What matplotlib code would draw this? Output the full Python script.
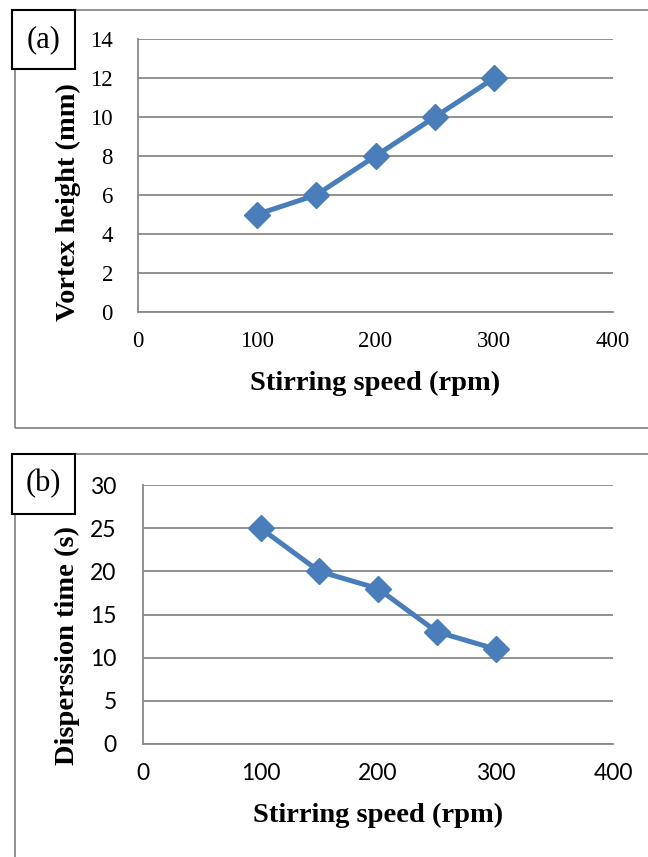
import matplotlib.pyplot as plt
from matplotlib.patches import Rectangle

# data
speed = [100, 150, 200, 250, 300]
vortex_height = [5, 6, 8, 10, 12]
dispersion_time = [25, 20, 18, 13, 11]

x_ticks = [0, 100, 200, 300, 400]
y_ticks_a = [0, 2, 4, 6, 8, 10, 12, 14]
y_ticks_b = [0, 5, 10, 15, 20, 25, 30]

W, H = 648, 857
blue = '#4a7ebb'
grid_gray = '#888888'


def rect(l, t, r, b):
    return [l / W, 1 - b / H, (r - l) / W, (b - t) / H]


fig = plt.figure(figsize=(W / 100, H / 100), dpi=100)

# outer chart borders and (a)/(b) tag boxes
for top, bot in [(10, 428), (454, 875)]:
    fig.add_artist(Rectangle((15 / W, 1 - bot / H), (665 - 15) / W, (bot - top) / H,
                             transform=fig.transFigure, fill=False,
                             edgecolor=grid_gray, lw=1.3))
for top, bot, tag in [(10, 69, '(a)'), (454, 514, '(b)')]:
    fig.add_artist(Rectangle((12 / W, 1 - bot / H), 63 / W, (bot - top) / H,
                             transform=fig.transFigure, facecolor='white',
                             edgecolor='black', lw=1.5, zorder=5))
    fig.text(43.5 / W, 1 - (top + bot) / 2 / H, tag, family='Liberation Serif',
             fontsize=22, ha='center', va='center', zorder=6)


def style(ax, yticks, tick_font, ypad):
    ax.set_xlim(0, 400)
    ax.set_ylim(yticks[0], yticks[-1])
    ax.set_xticks(x_ticks)
    ax.set_yticks(yticks)
    ax.grid(axis='y', color=grid_gray, lw=1.3)
    ax.set_axisbelow(True)
    for s in ['top', 'right']:
        ax.spines[s].set_visible(False)
    for s in ['left', 'bottom']:
        ax.spines[s].set_color(grid_gray)
        ax.spines[s].set_linewidth(1.3)
    ax.tick_params(length=0, labelsize=16.5)
    ax.tick_params(axis='y', pad=ypad)
    ax.tick_params(axis='x', pad=14)
    for lab in ax.get_xticklabels() + ax.get_yticklabels():
        lab.set_family(tick_font)


ax_a = fig.add_axes(rect(138, 39, 613, 312))
ax_a.plot(speed, vortex_height, color=blue, lw=3.6, marker='D', markersize=13)
style(ax_a, y_ticks_a, 'Liberation Serif', 18)
ax_a.set_xlabel('Stirring speed (rpm)', family='Liberation Serif', fontweight='bold',
                fontsize=20.5, va='center')
ax_a.set_ylabel('Vortex height (mm)', family='Liberation Serif', fontweight='bold',
                fontsize=20.5, va='center')
ax_a.xaxis.set_label_coords(0.5, -0.26)
ax_a.yaxis.set_label_coords(-0.147, 0.403)

ax_b = fig.add_axes(rect(143, 485, 613, 744))
ax_b.plot(speed, dispersion_time, color=blue, lw=3.6, marker='D', markersize=13)
style(ax_b, y_ticks_b, 'Lato', 19)
ax_b.set_xlabel('Stirring speed (rpm)', family='Liberation Serif', fontweight='bold',
                fontsize=20.5, va='center')
ax_b.set_ylabel('Disperssion time (s)', family='Liberation Serif', fontweight='bold',
                fontsize=20.5, va='center')
ax_b.xaxis.set_label_coords(0.5, -0.274)
ax_b.yaxis.set_label_coords(-0.16, 0.382)

fig.savefig('out.png', dpi=100)
